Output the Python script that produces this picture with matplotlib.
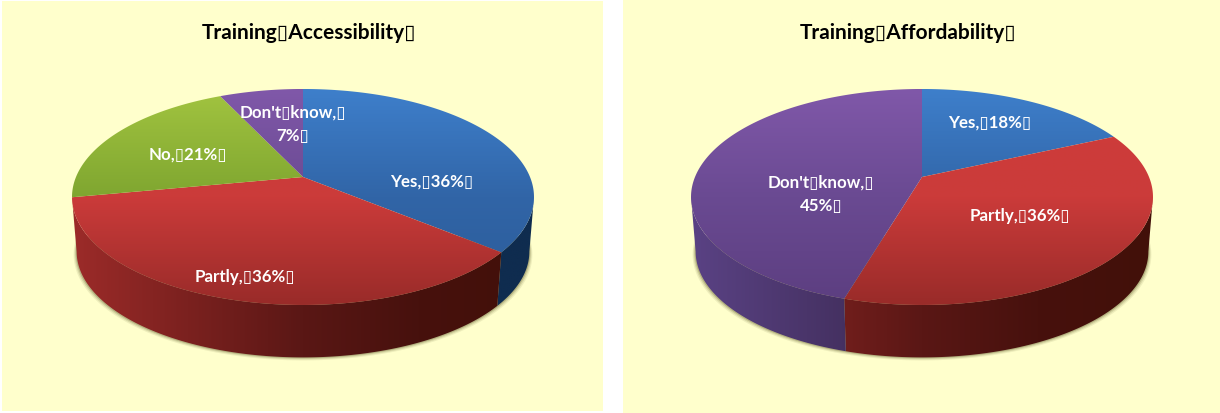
import numpy as np
import matplotlib
matplotlib.use("Agg")
import matplotlib.pyplot as plt
from matplotlib.colors import to_rgb
from matplotlib.patches import Polygon, Rectangle

plt.rcParams['font.family'] = ['Lato', 'DejaVu Sans']

BOX = "\u25af"

access_names = ["Yes", "Partly", "No", "Don't know"]
access_values = [36, 36, 21, 7]
afford_names = ["Yes", "Partly", "Don't know"]
afford_values = [18, 36, 45]

# colour stops of the disc, back to front
face_shades = {
    "Yes": ["#3e7fcb", "#3165a7", "#2b5b98"],
    "Partly": ["#cf3c3a", "#cb3b3a", "#992b29"],
    "No": ["#a2c440", "#7fa630", "#5a8520"],
    "Don't know": ["#8058a9", "#6a4a92", "#5c3e80"],
}
# colour stops of the side wall, left to right
wall_shades = {
    "Yes": ["#14375f", "#12335a", "#0f2c4f", "#0f2c4f"],
    "Partly": ["#9c2b29", "#5a1715", "#47110d", "#421009"],
    "No": ["#6c8a28", "#4a6018", "#3e4f16", "#3e4f16"],
    "Don't know": ["#5a4284", "#3a2850", "#33234a", "#33234a"],
}
FACE_T = [0, 0.5, 1]
WALL_T = [0, 0.5, 0.75, 1]

# perspective of the pie disc
A = 227.0
B = 104.3
K = 0.185
CY = 178.0
DROP = 55.0
BOTTOM_SCALE = 0.98
# rim angles where the disc outline is widest, the wall only shows between them
FRONT_START = np.arccos(-K)
FRONT_END = 2 * np.pi - FRONT_START


def project(cx, theta, lower=False):
    u = np.sin(theta)
    v = np.cos(theta)
    w = 1 + K * v
    if lower:
        return cx + BOTTOM_SCALE * A * u / w, CY + DROP - BOTTOM_SCALE * B * v / w
    return cx + A * u / w, CY - B * v / w


def gradient_fill(ax, pts, colors, stops, horizontal, extent, zorder):
    poly = Polygon(pts, closed=True, transform=ax.transData, fc="none", ec="none")
    ax.add_patch(poly)
    t = np.linspace(0, 1, 256)
    rgbs = np.array([to_rgb(c) for c in colors])
    rgb = np.column_stack([np.interp(t, stops, rgbs[:, i]) for i in range(3)])
    img = rgb[np.newaxis, :, :] if horizontal else rgb[:, np.newaxis, :]
    im = ax.imshow(img, extent=extent, origin="upper", aspect="auto",
                   interpolation="bilinear", zorder=zorder)
    im.set_clip_path(poly)


def draw_pie(ax, cx, names, values):
    x0, x1 = cx - 231, cx + 231
    edges = np.cumsum([0] + list(values)) / sum(values) * 2 * np.pi

    # soft shadow under the base
    t = np.linspace(FRONT_START - 0.15, FRONT_END + 0.15, 300)
    sx, sy = project(cx, t, lower=True)
    for grow, alpha in [(3.0, 0.10), (2.0, 0.16), (1.0, 0.28)]:
        ax.fill(cx + (sx - cx) * (1 + grow / 226), sy + grow, color="#5f5a28",
                alpha=alpha, lw=0, zorder=1)

    for name, a, b in zip(names, edges[:-1], edges[1:]):
        th = np.linspace(a, b, 200)
        tx, ty = project(cx, th)

        # wall first, the disc goes over it
        wa, wb = max(a, FRONT_START), min(b, FRONT_END)
        if wb > wa:
            wth = np.linspace(wa, wb, 200)
            wx, wy = project(cx, wth)
            lx, ly = project(cx, wth, lower=True)
            wall = np.column_stack([np.r_[wx, lx[::-1]], np.r_[wy, ly[::-1]]])
            gradient_fill(ax, wall, wall_shades[name], WALL_T, True, (x0, x1, 360, 90), 2)

        face = np.column_stack([np.r_[cx, tx], np.r_[CY, ty]])
        gradient_fill(ax, face, face_shades[name], FACE_T, False, (x0, x1, 306, 90), 3)


def value_label(name, value):
    words = name.replace(" ", BOX)
    if name == "Don't know":
        return f"{words},{BOX}\n{value}%{BOX}"
    return f"{words},{BOX}{value}%{BOX}"


fig = plt.figure(figsize=(12.2, 4.14), dpi=100, facecolor="white")
ax = fig.add_axes([0, 0, 1, 1])

ax.add_patch(Rectangle((2, 2), 601, 410, fc="#ffffcc", ec="none", zorder=0))
ax.add_patch(Rectangle((623, 0), 597, 414, fc="#ffffcc", ec="none", zorder=0))

draw_pie(ax, 303, access_names, access_values)
draw_pie(ax, 922, afford_names, afford_values)

ax.text(309, 33, f"Training{BOX}Accessibility{BOX}", fontsize=15, fontweight="bold",
        color="black", ha="center", va="center", zorder=5)
ax.text(908, 33, f"Training{BOX}Affordability{BOX}", fontsize=15, fontweight="bold",
        color="black", ha="center", va="center", zorder=5)

access_pos = [(432, 182), (245, 277), (188, 155), (293, 124)]
afford_pos = [(990, 123), (1020, 216), (821, 194)]
for names, values, pos in [(access_names, access_values, access_pos),
                           (afford_names, afford_values, afford_pos)]:
    for name, value, (x, y) in zip(names, values, pos):
        ax.text(x, y, value_label(name, value), fontsize=12.2, fontweight="bold",
                color="white", ha="center", va="center", linespacing=1.55, zorder=5)

ax.set_xlim(0, 1220)
ax.set_ylim(414, 0)
ax.axis("off")

fig.savefig("out.png", dpi=100, facecolor="white")
